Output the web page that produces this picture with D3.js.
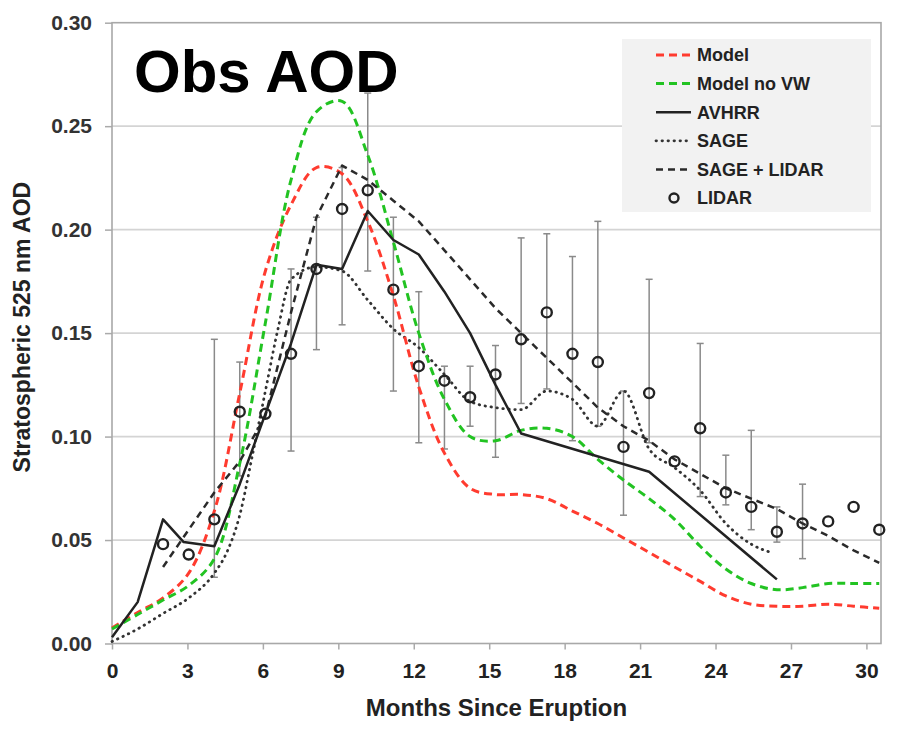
<!DOCTYPE html>
<html>
<head>
<meta charset="utf-8">
<script src="https://cdn.jsdelivr.net/npm/d3@7"></script>
<style>
  body { margin: 0; background: #fff; }
  svg { display: block; font-family: "Liberation Sans", Arial, sans-serif; }
</style>
</head>
<body>
<div id="chart"></div>
<script>
// Monthly sample positions (months since eruption) shared by model runs and LIDAR
const months = [0, 1.02, 2.03, 3.05, 4.07, 5.08, 6.1, 7.12, 8.13, 9.15, 10.17, 11.19, 12.2, 13.22, 14.24, 15.25,
  16.27, 17.29, 18.31, 19.32, 20.34, 21.36, 22.37, 23.39, 24.41, 25.42, 26.44, 27.46, 28.48, 29.49, 30.51];

const modelAod = [0.0075, 0.015, 0.022, 0.034, 0.064, 0.121, 0.180, 0.212, 0.230, 0.227, 0.204, 0.168, 0.124, 0.092,
  0.075, 0.072, 0.072, 0.070, 0.064, 0.058, 0.051, 0.044, 0.037, 0.030, 0.023, 0.019, 0.018, 0.018, 0.019, 0.018, 0.017];

const modelNoVwAod = [0.007, 0.014, 0.021, 0.028, 0.041, 0.087, 0.155, 0.224, 0.257, 0.262, 0.236, 0.194, 0.150, 0.118,
  0.100, 0.098, 0.103, 0.104, 0.100, 0.089, 0.079, 0.070, 0.060, 0.047, 0.036, 0.029, 0.026, 0.027, 0.029, 0.029, 0.029];

const avhrrMonths = [0, 1.02, 2.03, 2.85, 4.07, 5.08, 6.1, 7.12, 8.13, 9.15, 10.17, 11.19, 12.2, 13.22, 14.24, 15.25, 16.27, 21.36, 26.44];
const avhrrAod = [0.003, 0.020, 0.060, 0.049, 0.047, 0.077, 0.111, 0.145, 0.183, 0.181, 0.209, 0.195, 0.188, 0.170, 0.150, 0.125, 0.1015, 0.083, 0.031];

const sageMonths = [0, 1.02, 2.03, 3.05, 4.07, 4.6, 5.08, 5.6, 6.1, 6.6, 7.12, 8.13, 9.15, 10.17, 11.19, 12.2, 13.22, 14.24,
  15.25, 16.27, 17.29, 18.31, 19.32, 20.34, 21.36, 22.37, 23.39, 24.41, 25.42, 26.2];
const sageAod = [0.001, 0.007, 0.0145, 0.022, 0.034, 0.045, 0.062, 0.092, 0.122, 0.152, 0.176, 0.182, 0.180, 0.166, 0.152,
  0.143, 0.130, 0.117, 0.114, 0.113, 0.122, 0.118, 0.105, 0.122, 0.094, 0.085, 0.074, 0.058, 0.048, 0.044];

// SAGE + LIDAR starts at month index 2
const sageLidarAod = [null, null, 0.037, 0.055, 0.073, 0.088, 0.110, 0.160, 0.206, 0.231, 0.224, 0.214, 0.204, 0.190,
  0.176, 0.162, 0.150, 0.138, 0.126, 0.114, 0.105, 0.098, 0.089, 0.082, 0.075, 0.070, 0.065, 0.058, 0.052, 0.045, 0.039];

const lidarAod = [null, null, 0.048, 0.043, 0.060, 0.112, 0.111, 0.140, 0.181, 0.210, 0.219, 0.171, 0.134, 0.127,
  0.119, 0.130, 0.147, 0.160, 0.140, 0.136, 0.095, 0.121, 0.088, 0.104, 0.073, 0.066, 0.054, 0.058, 0.059, 0.066, 0.055];
const lidarLow = [null, null, null, null, 0.032, 0.081, null, 0.093, 0.142, 0.154, 0.180, 0.122, 0.097, 0.094,
  0.105, 0.090, 0.116, 0.123, 0.098, 0.105, 0.062, 0.097, null, 0.071, 0.067, 0.055, 0.049, 0.041, null, null, null];
const lidarHigh = [null, null, null, null, 0.147, 0.136, null, 0.181, 0.206, 0.230, 0.266, 0.206, 0.170, 0.134,
  0.134, 0.144, 0.196, 0.198, 0.187, 0.204, 0.122, 0.176, null, 0.145, 0.091, 0.103, 0.066, 0.077, null, null, null];

const xTicks = [0, 3, 6, 9, 12, 15, 18, 21, 24, 27, 30];
const yTicks = [0, 0.05, 0.10, 0.15, 0.20, 0.25, 0.30];

const legendItems = [
  { label: "Model", kind: "model" },
  { label: "Model no VW", kind: "novw" },
  { label: "AVHRR", kind: "avhrr" },
  { label: "SAGE", kind: "sage" },
  { label: "SAGE + LIDAR", kind: "sagelidar" },
  { label: "LIDAR", kind: "lidar" }
];

const width = 914, height = 737;
const plot = { left: 112, right: 881, top: 22.7, bottom: 643.5 };

const styles = {
  model: { stroke: "#ff3b2f", width: 3, dash: "8,5", cap: "butt" },
  novw: { stroke: "#22c322", width: 3, dash: "8,5", cap: "butt" },
  avhrr: { stroke: "#222", width: 2.5, dash: null, cap: "butt" },
  sage: { stroke: "#333", width: 2.8, dash: "0.5,5.5", cap: "round" },
  sagelidar: { stroke: "#2a2a2a", width: 2.5, dash: "7,5", cap: "butt" }
};

const svg = d3.select("#chart").append("svg")
  .attr("width", width)
  .attr("height", height);

const x = d3.scaleLinear().domain([0, 30.58]).range([plot.left, plot.right]);
const y = d3.scaleLinear().domain([0, 0.3]).range([plot.bottom, plot.top]);

// Gridlines
svg.append("g")
  .selectAll("line")
  .data(yTicks.slice(1, -1))
  .join("line")
  .attr("x1", plot.left).attr("x2", plot.right)
  .attr("y1", d => y(d)).attr("y2", d => y(d))
  .attr("stroke", "#d4d4d4")
  .attr("stroke-width", 1.8);

// Axes
const yAxis = svg.append("g")
  .attr("transform", `translate(${plot.left},0)`)
  .call(d3.axisLeft(y).tickValues(yTicks).tickFormat(d3.format(".2f")).tickSize(7).tickPadding(13));
yAxis.select(".domain").remove();
yAxis.selectAll("line").attr("stroke", "#aaa").attr("stroke-width", 1.5);
yAxis.selectAll("text")
  .attr("fill", "#333")
  .style("font-size", "21px")
  .style("font-weight", "bold");

const xAxis = svg.append("g")
  .attr("transform", `translate(0,${plot.bottom})`)
  .call(d3.axisBottom(x).tickValues(xTicks).tickSize(6).tickPadding(14));
xAxis.select(".domain").remove();
xAxis.selectAll("line").attr("stroke", "#aaa").attr("stroke-width", 1.5);
xAxis.selectAll("text")
  .attr("fill", "#222")
  .style("font-size", "21px")
  .style("font-weight", "bold");

// Plot border
svg.append("rect")
  .attr("x", plot.left).attr("y", plot.top)
  .attr("width", plot.right - plot.left)
  .attr("height", plot.bottom - plot.top)
  .attr("fill", "none")
  .attr("stroke", "#a8a8a8")
  .attr("stroke-width", 1.6);

// Axis titles
svg.append("text")
  .attr("x", (plot.left + plot.right) / 2)
  .attr("y", 716)
  .attr("text-anchor", "middle")
  .attr("fill", "#222")
  .style("font-size", "24px")
  .style("font-weight", "bold")
  .text("Months Since Eruption");

svg.append("text")
  .attr("transform", `translate(30,${(plot.top + plot.bottom) / 2 - 6}) rotate(-90)`)
  .attr("text-anchor", "middle")
  .attr("fill", "#222")
  .style("font-size", "23px")
  .style("font-weight", "bold")
  .text("Stratospheric 525 nm AOD");

// Series lines
function drawLine(xs, ys, st, curve) {
  const pts = xs.map((m, i) => [m, ys[i]]).filter(p => p[1] != null);
  const line = d3.line()
    .x(d => x(d[0]))
    .y(d => y(d[1]))
    .curve(curve);
  svg.append("path")
    .datum(pts)
    .attr("fill", "none")
    .attr("stroke", st.stroke)
    .attr("stroke-width", st.width)
    .attr("stroke-dasharray", st.dash)
    .attr("stroke-linecap", st.cap)
    .attr("stroke-linejoin", "round")
    .attr("d", line);
}

// Error bars
const lidar = months.map((m, i) => ({ m, v: lidarAod[i], lo: lidarLow[i], hi: lidarHigh[i] }))
  .filter(d => d.v != null);
const bars = lidar.filter(d => d.lo != null);

const eb = svg.append("g").attr("stroke", "#8a8a8a").attr("stroke-width", 1.5);
eb.selectAll("line.v").data(bars).join("line")
  .attr("class", "v")
  .attr("x1", d => x(d.m)).attr("x2", d => x(d.m))
  .attr("y1", d => y(d.lo)).attr("y2", d => y(d.hi));
eb.selectAll("line.t").data(bars).join("line")
  .attr("class", "t")
  .attr("x1", d => x(d.m) - 3.5).attr("x2", d => x(d.m) + 3.5)
  .attr("y1", d => y(d.hi)).attr("y2", d => y(d.hi));
eb.selectAll("line.b").data(bars).join("line")
  .attr("class", "b")
  .attr("x1", d => x(d.m) - 3.5).attr("x2", d => x(d.m) + 3.5)
  .attr("y1", d => y(d.lo)).attr("y2", d => y(d.lo));

drawLine(sageMonths, sageAod, styles.sage, d3.curveMonotoneX);
drawLine(months, modelAod, styles.model, d3.curveCatmullRom.alpha(0.5));
drawLine(months, modelNoVwAod, styles.novw, d3.curveCatmullRom.alpha(0.5));
drawLine(months, sageLidarAod, styles.sagelidar, d3.curveLinear);
drawLine(avhrrMonths, avhrrAod, styles.avhrr, d3.curveLinear);

// LIDAR circles
svg.append("g")
  .selectAll("circle")
  .data(lidar)
  .join("circle")
  .attr("cx", d => x(d.m))
  .attr("cy", d => y(d.v))
  .attr("r", 5)
  .attr("fill", "none")
  .attr("stroke", "#222")
  .attr("stroke-width", 2.4);

// Big label
svg.append("text")
  .attr("x", 134)
  .attr("y", 92)
  .attr("fill", "#000")
  .style("font-size", "60px")
  .style("font-weight", "bold")
  .text("Obs AOD");

// Legend
const legend = svg.append("g");
legend.append("rect")
  .attr("x", 622).attr("y", 39)
  .attr("width", 249).attr("height", 173)
  .attr("fill", "#f2f2f2");

const rowY = d3.scalePoint().domain(legendItems.map(d => d.label)).range([55, 198]);

legendItems.forEach(item => {
  const ly = rowY(item.label);
  if (item.kind === "lidar") {
    legend.append("circle")
      .attr("cx", 674).attr("cy", ly).attr("r", 4.5)
      .attr("fill", "none").attr("stroke", "#222").attr("stroke-width", 2.4);
  } else {
    const st = styles[item.kind];
    legend.append("line")
      .attr("x1", 656).attr("x2", 691)
      .attr("y1", ly).attr("y2", ly)
      .attr("stroke", st.stroke)
      .attr("stroke-width", st.width)
      .attr("stroke-dasharray", st.dash)
      .attr("stroke-linecap", st.cap);
  }
  legend.append("text")
    .attr("x", 697).attr("y", ly)
    .attr("dy", "0.36em")
    .attr("fill", "#222")
    .style("font-size", "18px")
    .style("font-weight", "bold")
    .text(item.label);
});
</script>
</body>
</html>
